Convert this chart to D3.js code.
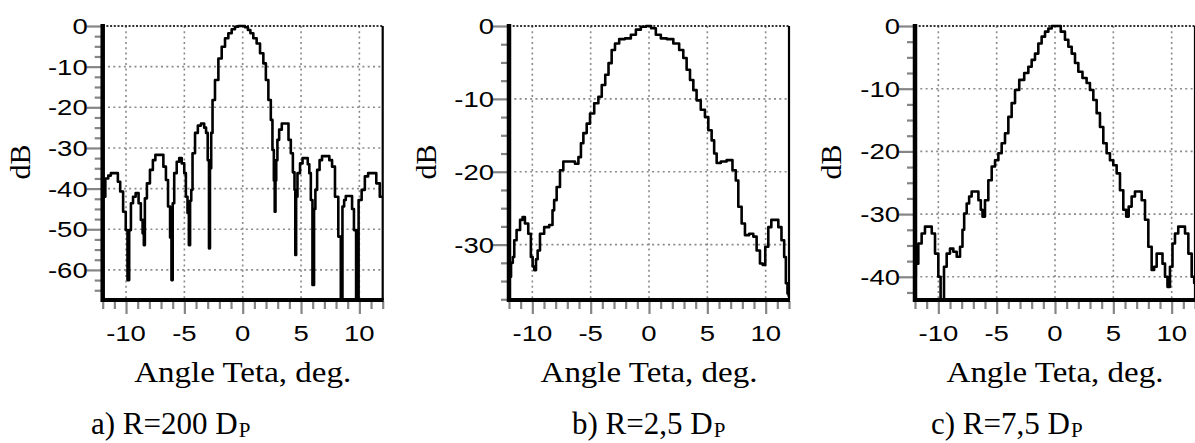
<!DOCTYPE html>
<html><head><meta charset="utf-8">
<script src="https://cdn.jsdelivr.net/npm/d3@7"></script>
<style>body{margin:0;background:#fff;overflow:hidden}</style>
</head><body><svg id="chart" width="1195" height="443"></svg>
<script>
// ---------------- DATA ----------------
const anglesA = [-12.0,-11.9,-11.65,-11.4,-11.2,-10.8,-10.6,-10.4,-10.1,-9.95,-9.8,-9.66,-9.5,-9.3,-9.05,-8.8,-8.66,-8.5,-8.45,-8.32,-8.1,-7.8,-7.6,-7.37,-6.94,-6.66,-6.5,-6.3,-6.15,-6.06,-5.94,-5.8,-5.51,-5.37,-5.08,-4.94,-4.8,-4.66,-4.57,-4.45,-4.37,-4.23,-3.94,-3.75,-3.4,-3.2,-3.08,-2.92,-2.86,-2.75,-2.65,-2.52,-2.23,-1.94,-1.66,-1.37,-1.09,-0.8,-0.52,-0.23,0.05,0.34,0.55,0.77,1.05,1.34,1.63,1.91,2.06,2.34,2.48,2.62,2.72,2.77,2.85,2.9,3.05,3.2,3.5,3.8,4.05,4.2,4.4,4.48,4.54,4.62,4.77,5.06,5.2,5.5,5.65,5.77,5.91,6.05,6.18,6.28,6.48,6.7,6.9,7.3,7.55,7.77,8.05,8.34,8.48,8.62,8.77,8.9,9.3,9.45,9.62,9.82,10.05,10.34,10.6,10.9,11.3,11.6,11.9,12.0];
const dbA = [-42,-42,-37.5,-36.8,-36.2,-36.2,-38.3,-40.7,-45.7,-50.2,-62.5,-50.2,-43.6,-42,-41.1,-43.6,-47.7,-51,-53.9,-42.4,-38.7,-35.4,-33,-31.7,-31.7,-34.6,-37.9,-44.4,-52,-62.5,-43.6,-36.2,-33.4,-32.5,-33.8,-36.2,-42,-46,-53.9,-43,-40.3,-31.3,-26.3,-24.5,-24,-25,-26.3,-33,-54.7,-35,-26.3,-18.2,-13.3,-8,-5.1,-3.0,-1.8,-0.8,-0.2,0,0,-0.3,-1,-1.8,-3,-4.3,-6.7,-9.2,-13.3,-18.2,-23.1,-30.5,-38,-45.7,-38,-33,-28,-25.5,-24,-24,-28,-31.3,-36,-40.3,-56.3,-42,-36.2,-33.8,-32.5,-32.5,-34,-36.2,-42.8,-63.7,-45,-40.3,-35.4,-33,-32,-32,-33,-34.6,-42,-51.8,-75,-44.4,-42.8,-41.8,-41.8,-45,-50.2,-75,-42.8,-40.3,-37,-36.2,-36.2,-38.7,-42,-42];

const anglesB = [-12.0,-11.9,-11.75,-11.6,-11.5,-11.2,-10.9,-10.77,-10.5,-10.2,-10.05,-9.9,-9.77,-9.6,-9.49,-9.2,-8.77,-8.34,-8.2,-8.06,-7.77,-7.49,-7.2,-6.49,-6.2,-5.9,-5.77,-5.48,-5.2,-4.91,-4.48,-4.2,-3.9,-3.6,-3.34,-3.06,-2.77,-2.34,-1.77,-1.34,-0.91,-0.49,0,0.37,0.8,1.23,1.8,2.37,2.8,3.08,3.37,3.66,3.94,4.22,4.65,4.94,5.23,5.51,5.66,5.94,6.37,6.94,7.37,7.51,7.8,8.08,8.37,8.8,9.08,9.37,9.65,9.85,10.08,10.37,10.6,10.97,11.2,11.51,11.66,11.8,11.94,12.0];
const dbB = [-35.5,-34.4,-32.5,-31.7,-29.4,-28,-26.6,-26.2,-27.1,-28.5,-31.7,-33,-33.5,-32,-30.8,-28.5,-27.6,-27.3,-25.3,-23.9,-22.1,-19.8,-18.6,-18.6,-18.9,-18,-16.1,-14.7,-13.4,-12,-10.6,-9.7,-8.1,-6.7,-5.1,-3.3,-2.4,-1.8,-1.7,-1.2,-0.5,-0.1,0,-0.3,-1.2,-1.7,-1.8,-2.4,-3.3,-4.4,-6.0,-7.4,-8.8,-10.2,-11.5,-12.5,-14.3,-15.7,-17.5,-18.8,-18.6,-18.4,-19.8,-21.2,-24.8,-27.1,-28.7,-28.5,-28.9,-30.8,-32.6,-32.8,-30.3,-27.6,-26.6,-26.6,-27.6,-29.4,-31.7,-35.3,-36.7,-37];

const anglesC = [-12.0,-11.86,-11.57,-11.29,-11.0,-10.7,-10.43,-10.14,-9.86,-9.75,-9.6,-9.43,-9.14,-8.86,-8.57,-8.28,-8.0,-7.86,-7.71,-7.43,-7.29,-7.0,-6.7,-6.43,-6.29,-6.14,-5.86,-5.57,-5.28,-5.0,-4.71,-4.43,-4.14,-3.86,-3.57,-3.28,-2.85,-2.43,-2.14,-1.86,-1.57,-1.29,-1.0,-0.71,-0.43,-0.14,0.28,0.71,1.0,1.29,1.57,1.86,2.14,2.57,2.85,3.14,3.43,3.71,4.0,4.28,4.57,4.85,5.14,5.43,5.71,6.0,6.2,6.43,6.71,7.0,7.29,7.57,7.86,8.14,8.43,8.57,8.86,9.14,9.29,9.57,9.71,10.0,10.14,10.43,10.7,11.0,11.29,11.57,11.86,12.0];
const dbC = [-40,-37.9,-34.7,-33.1,-32,-32,-33.1,-36.3,-40,-48,-45,-38.4,-36.3,-35.5,-36,-36.8,-35.2,-32.5,-29.9,-28.3,-27.2,-26.4,-26.4,-27.8,-29.3,-30.4,-27.8,-24.6,-22.4,-21.4,-20.3,-18.7,-17.1,-14.5,-12.3,-10.2,-8.6,-7.5,-6.5,-5.4,-4.4,-2.8,-1.7,-0.9,-0.4,0,0,-0.9,-2.2,-3.3,-4.4,-5.9,-7.3,-8.3,-9.1,-10.2,-11.8,-13.9,-16.1,-18.7,-20.3,-21.4,-22.2,-23.5,-26.2,-29.3,-30.4,-28.8,-27.2,-26.4,-26.4,-27.8,-30.9,-35.2,-38.9,-38.4,-36.3,-36.3,-37.9,-40,-41.6,-38.4,-34.7,-33.1,-32,-32,-33.1,-36.3,-40,-41];

const xTickValues = [-10, -5, 0, 5, 10];
const yTicksA = [0, -10, -20, -30, -40, -50, -60];
const yTicksB = [0, -10, -20, -30];
const yTicksC = [0, -10, -20, -30, -40];
const captionMain = ["a) R=200 D", "b) R=2,5 D", "c) R=7,5 D"];
const captionSub = "P";
const xLabel = "Angle Teta, deg.";
const yLabel = "dB";

// ---------------- LAYOUT ----------------
const panels = [
  {ang: anglesA, db: dbA, yTicks: yTicksA, left: 102.7, yMin: -67.4, labX: 20,  capX: 91},
  {ang: anglesB, db: dbB, yTicks: yTicksB, left: 509,   yMin: -37.6, labX: 426, capX: 572},
  {ang: anglesC, db: dbC, yTicks: yTicksC, left: 915,   yMin: -43.7, labX: 831, capX: 931}
];
const W = 280, topY = 26, botY = 300;
const svg = d3.select("#chart");
const sans = "'Liberation Sans', Arial, sans-serif";
const serif = "'Liberation Serif', 'Times New Roman', serif";

panels.forEach((p, i) => {
  const x = d3.scaleLinear().domain([-12, 12]).range([p.left, p.left + W]);
  const y = d3.scaleLinear().domain([0, p.yMin]).range([topY, botY]);
  const g = svg.append("g");

  // grid
  g.selectAll(".gx").data(xTickValues).enter().append("line")
    .attr("x1", d => x(d)).attr("x2", d => x(d)).attr("y1", topY).attr("y2", botY)
    .attr("stroke", "#8a8a8a").attr("stroke-width", 1.6).attr("stroke-dasharray", "2,3.3");
  g.selectAll(".gy").data(p.yTicks.filter(v => v !== 0)).enter().append("line")
    .attr("x1", x(-12)).attr("x2", x(12)).attr("y1", d => y(d)).attr("y2", d => y(d))
    .attr("stroke", "#8a8a8a").attr("stroke-width", 1.6).attr("stroke-dasharray", "2,3.3");
  g.append("line").attr("x1", x(-12)).attr("x2", x(12)).attr("y1", y(0)).attr("y2", y(0))
    .attr("stroke", "#333").attr("stroke-width", 1.8).attr("stroke-dasharray", "2,1.7");

  // ticks (minor + major)
  const minorX = d3.range(-12, 13, 1).filter(v => v % 5 !== 0);
  const axMinX = g.append("g").attr("transform", `translate(0,${botY + 1})`)
    .call(d3.axisBottom(x).tickValues(minorX).tickSize(8).tickFormat(""));
  const axMajX = g.append("g").attr("transform", `translate(0,${botY + 1})`)
    .call(d3.axisBottom(x).tickValues(xTickValues).tickSize(13).tickFormat(""));
  const minorY = d3.range(0, p.yMin, -2.5).filter(v => v % 10 !== 0);
  const axMinY = g.append("g").attr("transform", `translate(${p.left - 1},0)`)
    .call(d3.axisLeft(y).tickValues(minorY).tickSize(7).tickFormat(""));
  const axMajY = g.append("g").attr("transform", `translate(${p.left - 1},0)`)
    .call(d3.axisLeft(y).tickValues(p.yTicks).tickSize(15).tickFormat(""));
  [axMinX, axMajX, axMinY, axMajY].forEach(a => {
    a.select(".domain").remove();
    a.selectAll(".tick line").attr("stroke", "#858585").attr("stroke-width", 2.2);
  });

  // tick labels
  xTickValues.forEach(v => {
    g.append("text").attr("transform", `translate(${x(v)},341) scale(1.25,1)`)
      .attr("text-anchor", "middle").attr("font-family", sans).attr("font-size", 22)
      .text(v);
  });
  p.yTicks.forEach(v => {
    g.append("text").attr("transform", `translate(${p.left - 15},${y(v) + 8}) scale(1.25,1)`)
      .attr("text-anchor", "end").attr("font-family", sans).attr("font-size", 22)
      .text(v);
  });

  // data line
  const cid = "clip" + i;
  svg.append("clipPath").attr("id", cid).append("rect")
    .attr("x", x(-12)).attr("y", topY - 3).attr("width", W).attr("height", botY - topY + 3);
  const pts = p.ang.map((a, k) => [a, p.db[k]]);
  g.append("path").datum(pts).attr("clip-path", `url(#${cid})`)
    .attr("d", d3.line().x(d => x(d[0])).y(d => y(d[1])).curve(d3.curveStep))
    .attr("fill", "none").attr("stroke", "#000").attr("stroke-width", 2.6)
    .attr("stroke-linejoin", "round");

  // frame
  g.append("line").attr("x1", x(12)).attr("x2", x(12)).attr("y1", topY).attr("y2", botY)
    .attr("stroke", "#000").attr("stroke-width", 2.2);
  g.append("line").attr("x1", x(-12)).attr("x2", x(12) + 1).attr("y1", botY).attr("y2", botY)
    .attr("stroke", "#000").attr("stroke-width", 4);
  g.append("line").attr("x1", x(-12)).attr("x2", x(-12)).attr("y1", topY - 2).attr("y2", botY + 2)
    .attr("stroke", "#000").attr("stroke-width", 4.5);

  // axis titles
  g.append("text").attr("transform", `translate(${p.labX + 10},162) rotate(-90)`)
    .attr("text-anchor", "middle").attr("font-family", serif).attr("font-size", 30).text(yLabel);
  g.append("text").attr("transform", `translate(${x(0)},382) scale(1.1,1)`)
    .attr("text-anchor", "middle").attr("font-family", serif).attr("font-size", 30).text(xLabel);

  // caption
  const cap = g.append("text").attr("x", p.capX).attr("y", 434)
    .attr("font-family", serif).attr("font-size", 31);
  cap.append("tspan").text(captionMain[i]);
  cap.append("tspan").attr("font-size", 21).attr("dy", 3).attr("dx", 1).text(captionSub);
});
</script>
</body></html>
